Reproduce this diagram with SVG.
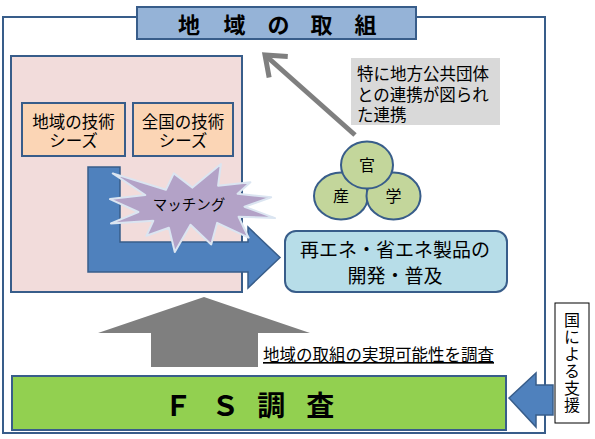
<svg xmlns="http://www.w3.org/2000/svg" width="595" height="439" viewBox="0 0 595 439">
<defs>
<style>
.jp{font-family:"Noto Sans CJK JP","Noto Sans CJK SC",sans-serif;fill:#000}
.bx{stroke:#385d8a;stroke-width:2}
.blue{fill:#4f81bd;stroke:#385d8a;stroke-width:1.5}
.circ{fill:#c3d69b;stroke:#385d8a;stroke-width:2}
.vt{writing-mode:vertical-rl}
</style>
<marker id="chev" markerUnits="userSpaceOnUse" markerWidth="40" markerHeight="40" viewBox="-25 -20 30 40" refX="0" refY="0" orient="auto">
<path d="M-18,-14 L0,0 L-18,14" fill="none" stroke="#7f7f7f" stroke-width="5" stroke-linejoin="miter"/>
</marker>
</defs>
<rect width="595" height="439" fill="#fff"/>

<g id="frame"><rect x="3" y="17" width="542" height="416" fill="none" class="bx"/></g>

<g id="title">
<rect x="137" y="7" width="279" height="32" fill="#95b3d7" class="bx"/>
<text class="jp" font-size="22" font-weight="bold" y="33" text-anchor="middle"><tspan x="189">地</tspan><tspan x="232"> 域</tspan><tspan x="276"> の</tspan><tspan x="319"> 取</tspan><tspan x="363"> 組</tspan></text>
</g>

<g id="pinkArea"><rect x="11" y="56" width="231" height="236" fill="#f2dcdb" class="bx"/></g>

<g id="seeds1">
<rect x="22" y="103" width="103" height="53" fill="#fbd5b5" class="bx"/>
<text class="jp" font-size="16.5" text-anchor="middle"><tspan x="73.5" y="128">地域の技術</tspan><tspan x="73.5" y="147">シーズ</tspan></text>
</g>
<g id="seeds2">
<rect x="133" y="103" width="100" height="53" fill="#fbd5b5" class="bx"/>
<text class="jp" font-size="16.5" text-anchor="middle"><tspan x="183" y="128">全国の技術</tspan><tspan x="183" y="147">シーズ</tspan></text>
</g>

<g id="connectors">
<path class="blue" d="M88,167 H120 V242 H248 V227 L280,257.5 L248,288 V272 H88 Z"/>
<line x1="355" y1="135" x2="265" y2="55" stroke="#7f7f7f" stroke-width="5" marker-end="url(#chev)"/>
<polygon points="204,297 310,333 258,333 258,367 151,367 151,333 98,333" fill="#7f7f7f"/>
<path class="blue" d="M509,398 L536,373 V385 H553 V415 H536 V427 Z"/>
</g>

<g id="matching">
<polygon points="192.5,187.6 220.9,164 218.1,185.7 250.4,182.2 237.6,193.8 271.2,197.2 244.5,206.7 275,218.1 238.6,216.7 248.6,237.7 217.1,222.9 211.2,244.4 190.5,224.8 174.8,252 168.9,227.7 146.4,235.8 153.3,220.8 111,223.4 138.4,212 110,199.1 145.3,195 112.8,173.4 165.9,189.7 173.8,173.4" fill="#b3a2c7" stroke="#dbe5f1" stroke-width="2" stroke-linejoin="round"/>
<text class="jp" x="189" y="210" font-size="14.5" text-anchor="middle">マッチング</text>
</g>

<g id="callout">
<rect x="351" y="58" width="149" height="67" fill="#d9d9d9"/>
<text class="jp" font-size="16.5"><tspan x="357" y="80">特に地方公共団体</tspan><tspan x="357" y="101">との連携が図られ</tspan><tspan x="357" y="121">た連携</tspan></text>
</g>

<g id="san"><ellipse cx="341" cy="196" rx="27" ry="23.5" class="circ"/><text class="jp" x="341" y="202" font-size="16" text-anchor="middle">産</text></g>
<g id="gaku"><ellipse cx="393.5" cy="196" rx="27" ry="23.5" class="circ"/><text class="jp" x="393.5" y="202" font-size="16" text-anchor="middle">学</text></g>
<g id="kan"><ellipse cx="367" cy="165" rx="26" ry="23.5" class="circ"/><text class="jp" x="367" y="171" font-size="16" text-anchor="middle">官</text></g>

<g id="product">
<rect x="285" y="231" width="222" height="61" rx="11" fill="#b7dde8" class="bx"/>
<text class="jp" font-size="19" text-anchor="middle"><tspan x="395" y="257">再エネ・省エネ製品の</tspan><tspan x="395" y="283">開発・普及</tspan></text>
</g>

<g id="fsNote"><text class="jp" x="263" y="361" font-size="16.5" text-decoration="underline">地域の取組の実現可能性を調査</text></g>

<g id="fs">
<rect x="12" y="376" width="494" height="54" fill="#92d050" class="bx"/>
<text class="jp" font-size="28" font-weight="bold" y="416" text-anchor="middle"><tspan x="178">Ｆ</tspan><tspan x="222"> Ｓ</tspan><tspan x="268"> 調</tspan><tspan x="317"> 査</tspan></text>
</g>

<g id="support">
<rect x="555" y="303" width="34" height="120" fill="#fff" stroke="#000" stroke-width="1"/>
<text class="jp vt" x="572" y="363" font-size="16" letter-spacing="1" text-anchor="middle" writing-mode="tb">国による支援</text>
</g>
</svg>
